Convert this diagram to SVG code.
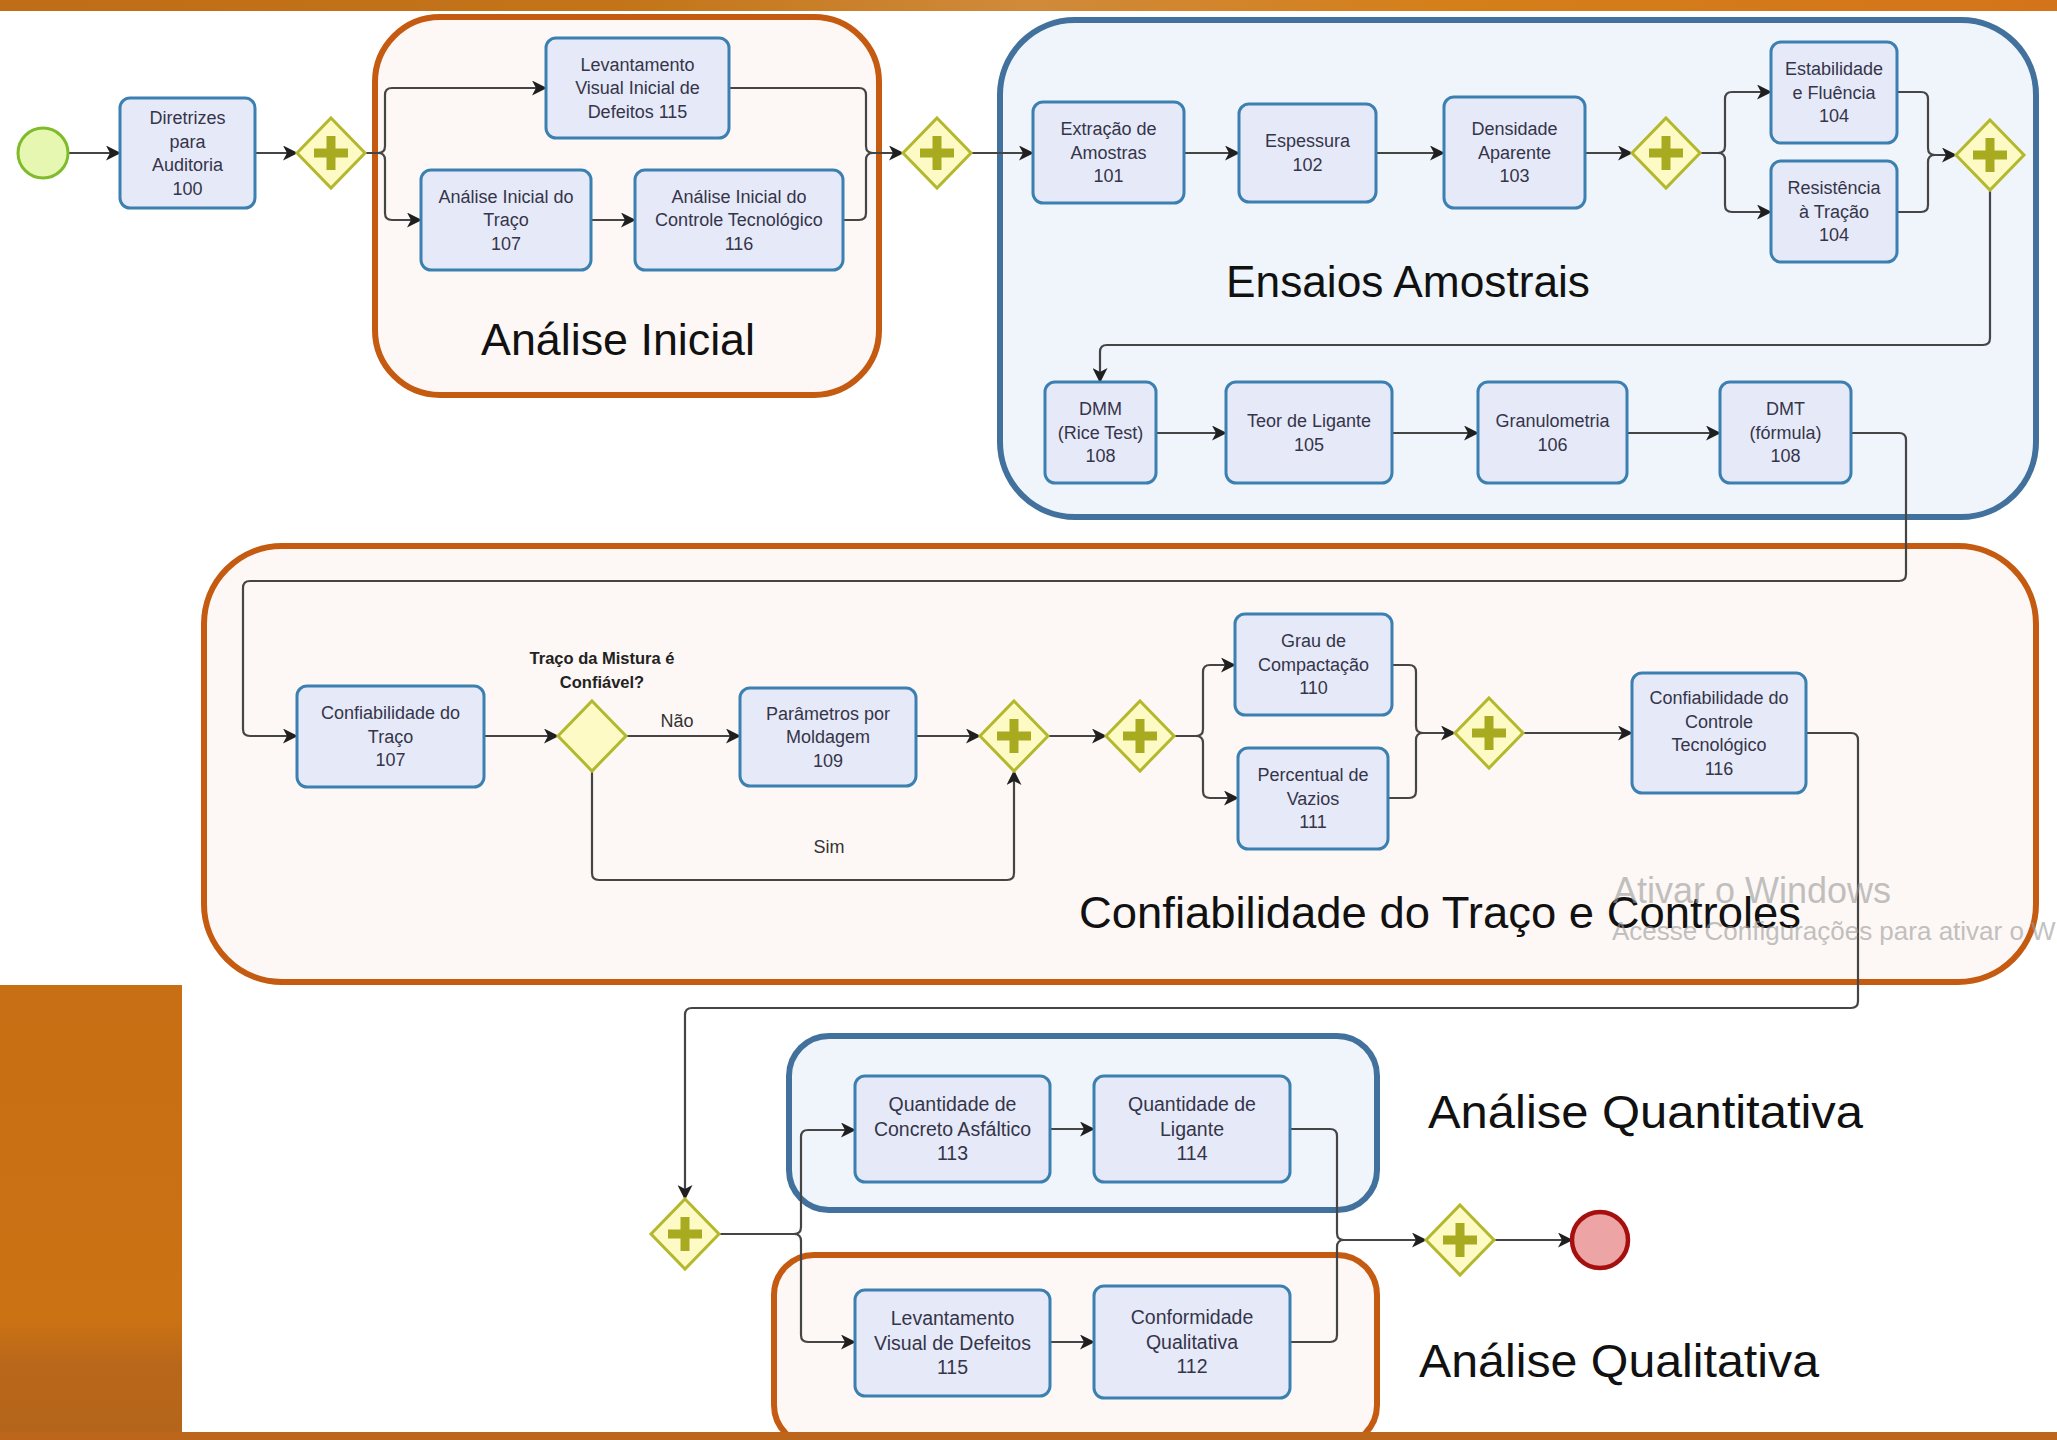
<svg xmlns="http://www.w3.org/2000/svg" width="2057" height="1440" viewBox="0 0 2057 1440">
<defs>
<style>
.task{fill:#e6e9f8;stroke:#3b80b0;stroke-width:3}
.gwd{fill:#fdfac6;stroke:#b3b82c;stroke-width:3}
.plus{fill:#a8aa1f}
.grpO{fill:#fdf8f5;stroke:#c55a11;stroke-width:6}
.grpB{fill:#eff5fb;stroke:#41719c;stroke-width:6}
.conn{fill:none;stroke:#454545;stroke-width:2.2;stroke-linejoin:round}
.arr{marker-end:url(#arrow)}
.t{font-family:'Liberation Sans',Arial,sans-serif;font-size:18px;fill:#35354a;text-anchor:middle}
.tb{font-family:'Liberation Sans',Arial,sans-serif;font-size:19.5px;fill:#35354a;text-anchor:middle}
.big{font-family:'Liberation Sans',Arial,sans-serif;fill:#111111}
.lbl{font-family:'Liberation Sans',Arial,sans-serif;font-size:18px;fill:#333333;text-anchor:middle}
.wm{font-family:'Liberation Sans',Arial,sans-serif;fill:#9a9a9a;opacity:0.6}
</style>
<marker id="arrow" viewBox="0 0 15 15" refX="14" refY="7.5" markerWidth="15" markerHeight="15" markerUnits="userSpaceOnUse" orient="auto">
<path d="M0,0 L15,7.5 L0,15 L4,7.5 Z" fill="#1f1f1f"/>
</marker>
<linearGradient id="topBar" x1="0" y1="0" x2="1" y2="0">
<stop offset="0" stop-color="#bf6d17"/>
<stop offset="0.3" stop-color="#c37418"/>
<stop offset="0.5" stop-color="#d08a3a"/>
<stop offset="0.7" stop-color="#d47f1a"/>
<stop offset="1" stop-color="#d4741a"/>
</linearGradient>
<linearGradient id="leftBlock" x1="0" y1="0" x2="0" y2="1">
<stop offset="0" stop-color="#c86e14"/>
<stop offset="0.75" stop-color="#ca7214"/>
<stop offset="0.85" stop-color="#b9671a"/>
<stop offset="1" stop-color="#b5651a"/>
</linearGradient>
<g id="parGw">
<polygon class="gwd" points="0,-35 34,0 0,35 -34,0"/>
<path class="plus" d="M-4.5,-17 H4.5 V-4.5 H17 V4.5 H4.5 V17 H-4.5 V4.5 H-17 V-4.5 H-4.5 Z"/>
</g>
</defs>

<rect x="0" y="0" width="2057" height="1440" fill="#ffffff"/>
<rect x="0" y="0" width="2057" height="11" fill="url(#topBar)"/>
<rect x="0" y="985" width="182" height="447" fill="url(#leftBlock)"/>

<!-- containers -->
<g id="grp-analise-inicial">
<rect class="grpO" x="375" y="17" width="504" height="378" rx="65"/>
<text class="big" x="481" y="355" font-size="44" textLength="274" lengthAdjust="spacingAndGlyphs">Análise Inicial</text>
</g>
<g id="grp-ensaios">
<rect class="grpB" x="1000" y="20" width="1036" height="497" rx="75"/>
<text class="big" x="1226" y="297" font-size="44" textLength="364" lengthAdjust="spacingAndGlyphs">Ensaios Amostrais</text>
</g>
<g id="grp-confiabilidade">
<rect class="grpO" x="204" y="546" width="1832" height="436" rx="78"/>
<text class="big" x="1079" y="928" font-size="45" textLength="722" lengthAdjust="spacingAndGlyphs">Confiabilidade do Traço e Controles</text>
</g>
<g id="grp-quantitativa">
<rect class="grpB" x="789" y="1036" width="588" height="174" rx="40"/>
</g>
<g id="grp-qualitativa">
<rect class="grpO" x="774" y="1255" width="603" height="190" rx="40"/>
</g>
<text class="big" x="1428" y="1128" font-size="47" textLength="435" lengthAdjust="spacingAndGlyphs">Análise Quantitativa</text>
<text class="big" x="1419" y="1377" font-size="47" textLength="400" lengthAdjust="spacingAndGlyphs">Análise Qualitativa</text>

<!-- connectors -->
<g id="connectors">
<path class="conn arr" d="M68,153 H120"/>
<path class="conn arr" d="M255,153 H297"/>
<path class="conn arr" d="M365,153 H378 Q385,153 385,146 V95 Q385,88 392,88 H546"/>
<path class="conn arr" d="M365,153 H378 Q385,153 385,160 V213 Q385,220 392,220 H421"/>
<path class="conn arr" d="M591,220 H635"/>
<path class="conn" d="M729,88 H859 Q866,88 866,95 V146 Q866,153 873,153"/>
<path class="conn arr" d="M843,220 H859 Q866,220 866,213 V160 Q866,153 873,153 H903"/>
<path class="conn arr" d="M971,153 H1033"/>
<path class="conn arr" d="M1184,153 H1239"/>
<path class="conn arr" d="M1376,153 H1444"/>
<path class="conn arr" d="M1585,153 H1632"/>
<path class="conn arr" d="M1700,153 H1718 Q1725,153 1725,146 V99 Q1725,92 1732,92 H1771"/>
<path class="conn arr" d="M1700,153 H1718 Q1725,153 1725,160 V205 Q1725,212 1732,212 H1771"/>
<path class="conn" d="M1897,92 H1921 Q1928,92 1928,99 V148 Q1928,155 1935,155"/>
<path class="conn arr" d="M1897,212 H1921 Q1928,212 1928,205 V162 Q1928,155 1935,155 H1956"/>
<path class="conn arr" d="M1990,190 V338 Q1990,345 1983,345 H1107 Q1100,345 1100,352 V382"/>
<path class="conn arr" d="M1156,433 H1226"/>
<path class="conn arr" d="M1392,433 H1478"/>
<path class="conn arr" d="M1627,433 H1720"/>
<path class="conn arr" d="M1851,433 H1899 Q1906,433 1906,440 V574 Q1906,581 1899,581 H250 Q243,581 243,588 V729 Q243,736 250,736 H297"/>
<path class="conn arr" d="M484,736 H558"/>
<path class="conn arr" d="M626,736 H740"/>
<path class="conn arr" d="M916,736 H980"/>
<path class="conn arr" d="M592,771 V873 Q592,880 599,880 H1007 Q1014,880 1014,873 V771"/>
<path class="conn arr" d="M1048,736 H1106"/>
<path class="conn arr" d="M1174,736 H1196 Q1203,736 1203,729 V672 Q1203,665 1210,665 H1235"/>
<path class="conn arr" d="M1174,736 H1196 Q1203,736 1203,743 V791 Q1203,798 1210,798 H1238"/>
<path class="conn" d="M1392,665 H1409 Q1416,665 1416,672 V726 Q1416,733 1423,733"/>
<path class="conn arr" d="M1388,798 H1409 Q1416,798 1416,791 V740 Q1416,733 1423,733 H1455"/>
<path class="conn arr" d="M1523,733 H1632"/>
<path class="conn arr" d="M1806,733 H1851 Q1858,733 1858,740 V1001 Q1858,1008 1851,1008 H692 Q685,1008 685,1015 V1199"/>
<path class="conn arr" d="M719,1234 H794 Q801,1234 801,1227 V1137 Q801,1130 808,1130 H855"/>
<path class="conn arr" d="M719,1234 H794 Q801,1234 801,1241 V1335 Q801,1342 808,1342 H855"/>
<path class="conn arr" d="M1050,1129 H1094"/>
<path class="conn arr" d="M1050,1342 H1094"/>
<path class="conn" d="M1290,1129 H1330 Q1337,1129 1337,1136 V1233 Q1337,1240 1344,1240"/>
<path class="conn arr" d="M1290,1342 H1330 Q1337,1342 1337,1335 V1247 Q1337,1240 1344,1240 H1426"/>
<path class="conn arr" d="M1494,1240 H1572"/>
<text class="lbl" x="677" y="727">Não</text>
<text class="lbl" x="829" y="853">Sim</text>
</g>

<!-- events -->
<g id="start"><circle cx="43" cy="153" r="25" fill="#e6f7b2" stroke="#80bb2c" stroke-width="3"/></g>
<g id="end"><circle cx="1600" cy="1240" r="28" fill="#eda4a4" stroke="#a50f0f" stroke-width="4.5"/></g>

<!-- gateways -->
<g id="gw1" transform="translate(331,153)"><use href="#parGw"/></g>
<g id="gw2" transform="translate(937,153)"><use href="#parGw"/></g>
<g id="gw3" transform="translate(1666,153)"><use href="#parGw"/></g>
<g id="gw4" transform="translate(1990,155)"><use href="#parGw"/></g>
<g id="gw-decisao" transform="translate(592,736)">
<polygon class="gwd" points="0,-35 34,0 0,35 -34,0"/>
<text x="10" y="-72" font-family="'Liberation Sans',Arial,sans-serif" font-size="16.5" font-weight="bold" fill="#222" text-anchor="middle">Traço da Mistura é</text>
<text x="10" y="-48" font-family="'Liberation Sans',Arial,sans-serif" font-size="16.5" font-weight="bold" fill="#222" text-anchor="middle">Confiável?</text>
</g>
<g id="gw6" transform="translate(1014,736)"><use href="#parGw"/></g>
<g id="gw7" transform="translate(1140,736)"><use href="#parGw"/></g>
<g id="gw8" transform="translate(1489,733)"><use href="#parGw"/></g>
<g id="gw9" transform="translate(685,1234)"><use href="#parGw"/></g>
<g id="gw10" transform="translate(1460,1240)"><use href="#parGw"/></g>

<!-- tasks -->
<g id="t100"><rect class="task" x="120" y="98" width="135" height="110" rx="10"/>
<text class="t" x="187.5" y="124">Diretrizes</text><text class="t" x="187.5" y="147.5">para</text><text class="t" x="187.5" y="171">Auditoria</text><text class="t" x="187.5" y="194.5">100</text></g>

<g id="t115a"><rect class="task" x="546" y="38" width="183" height="100" rx="10"/>
<text class="t" x="637.5" y="70.5">Levantamento</text><text class="t" x="637.5" y="94">Visual Inicial de</text><text class="t" x="637.5" y="117.5">Defeitos 115</text></g>

<g id="t107a"><rect class="task" x="421" y="170" width="170" height="100" rx="10"/>
<text class="t" x="506" y="202.5">Análise Inicial do</text><text class="t" x="506" y="226">Traço</text><text class="t" x="506" y="249.5">107</text></g>

<g id="t116a"><rect class="task" x="635" y="170" width="208" height="100" rx="10"/>
<text class="t" x="739" y="202.5">Análise Inicial do</text><text class="t" x="739" y="226">Controle Tecnológico</text><text class="t" x="739" y="249.5">116</text></g>

<g id="t101"><rect class="task" x="1033" y="102" width="151" height="101" rx="10"/>
<text class="t" x="1108.5" y="135">Extração de</text><text class="t" x="1108.5" y="158.5">Amostras</text><text class="t" x="1108.5" y="182">101</text></g>

<g id="t102"><rect class="task" x="1239" y="104" width="137" height="98" rx="10"/>
<text class="t" x="1307.5" y="147">Espessura</text><text class="t" x="1307.5" y="170.5">102</text></g>

<g id="t103"><rect class="task" x="1444" y="97" width="141" height="111" rx="10"/>
<text class="t" x="1514.5" y="135">Densidade</text><text class="t" x="1514.5" y="158.5">Aparente</text><text class="t" x="1514.5" y="182">103</text></g>

<g id="t104a"><rect class="task" x="1771" y="42" width="126" height="101" rx="10"/>
<text class="t" x="1834" y="75">Estabilidade</text><text class="t" x="1834" y="98.5">e Fluência</text><text class="t" x="1834" y="122">104</text></g>

<g id="t104b"><rect class="task" x="1771" y="161" width="126" height="101" rx="10"/>
<text class="t" x="1834" y="194">Resistência</text><text class="t" x="1834" y="217.5">à Tração</text><text class="t" x="1834" y="241">104</text></g>

<g id="t108a"><rect class="task" x="1045" y="382" width="111" height="101" rx="10"/>
<text class="t" x="1100.5" y="415">DMM</text><text class="t" x="1100.5" y="438.5">(Rice Test)</text><text class="t" x="1100.5" y="462">108</text></g>

<g id="t105"><rect class="task" x="1226" y="382" width="166" height="101" rx="10"/>
<text class="t" x="1309" y="427">Teor de Ligante</text><text class="t" x="1309" y="450.5">105</text></g>

<g id="t106"><rect class="task" x="1478" y="382" width="149" height="101" rx="10"/>
<text class="t" x="1552.5" y="427">Granulometria</text><text class="t" x="1552.5" y="450.5">106</text></g>

<g id="t108b"><rect class="task" x="1720" y="382" width="131" height="101" rx="10"/>
<text class="t" x="1785.5" y="415">DMT</text><text class="t" x="1785.5" y="438.5">(fórmula)</text><text class="t" x="1785.5" y="462">108</text></g>

<g id="t107b"><rect class="task" x="297" y="686" width="187" height="101" rx="10"/>
<text class="t" x="390.5" y="719">Confiabilidade do</text><text class="t" x="390.5" y="742.5">Traço</text><text class="t" x="390.5" y="766">107</text></g>

<g id="t109"><rect class="task" x="740" y="688" width="176" height="98" rx="10"/>
<text class="t" x="828" y="719.5">Parâmetros por</text><text class="t" x="828" y="743">Moldagem</text><text class="t" x="828" y="766.5">109</text></g>

<g id="t110"><rect class="task" x="1235" y="614" width="157" height="101" rx="10"/>
<text class="t" x="1313.5" y="647">Grau de</text><text class="t" x="1313.5" y="670.5">Compactação</text><text class="t" x="1313.5" y="694">110</text></g>

<g id="t111"><rect class="task" x="1238" y="748" width="150" height="101" rx="10"/>
<text class="t" x="1313" y="781">Percentual de</text><text class="t" x="1313" y="804.5">Vazios</text><text class="t" x="1313" y="828">111</text></g>

<g id="t116b"><rect class="task" x="1632" y="673" width="174" height="120" rx="10"/>
<text class="t" x="1719" y="704">Confiabilidade do</text><text class="t" x="1719" y="727.5">Controle</text><text class="t" x="1719" y="751">Tecnológico</text><text class="t" x="1719" y="774.5">116</text></g>

<g id="t113"><rect class="task" x="855" y="1076" width="195" height="106" rx="10"/>
<text class="tb" x="952.5" y="1111">Quantidade de</text><text class="tb" x="952.5" y="1135.5">Concreto Asfáltico</text><text class="tb" x="952.5" y="1160">113</text></g>

<g id="t114"><rect class="task" x="1094" y="1076" width="196" height="106" rx="10"/>
<text class="tb" x="1192" y="1111">Quantidade de</text><text class="tb" x="1192" y="1135.5">Ligante</text><text class="tb" x="1192" y="1160">114</text></g>

<g id="t115b"><rect class="task" x="855" y="1290" width="195" height="106" rx="10"/>
<text class="tb" x="952.5" y="1325">Levantamento</text><text class="tb" x="952.5" y="1349.5">Visual de Defeitos</text><text class="tb" x="952.5" y="1374">115</text></g>

<g id="t112"><rect class="task" x="1094" y="1286" width="196" height="112" rx="10"/>
<text class="tb" x="1192" y="1324">Conformidade</text><text class="tb" x="1192" y="1348.5">Qualitativa</text><text class="tb" x="1192" y="1373">112</text></g>

<rect x="0" y="1432" width="2057" height="8" fill="#bb661a"/>

<text class="wm" x="1613" y="903" font-size="36">Ativar o Windows</text>
<text class="wm" x="1612" y="940" font-size="26">Acesse Configurações para ativar o W</text>
</svg>
